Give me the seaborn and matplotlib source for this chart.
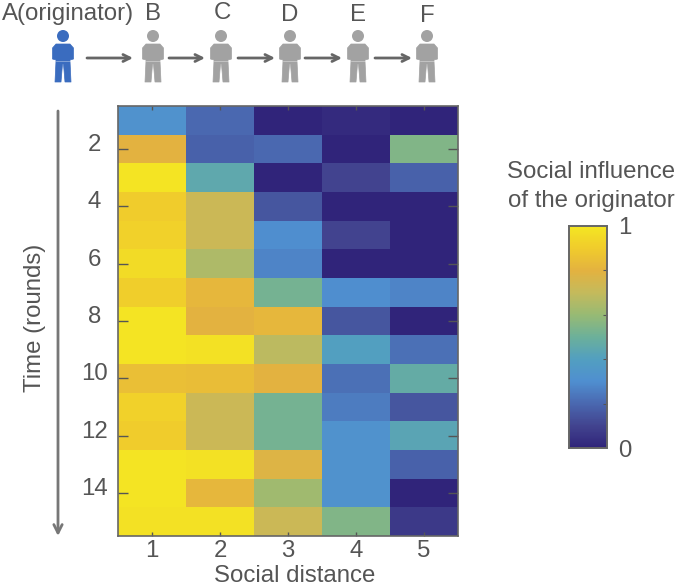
import numpy as np
import pandas as pd
import matplotlib
matplotlib.use('Agg')
import matplotlib.pyplot as plt
from matplotlib.colors import LinearSegmentedColormap
from matplotlib.patches import Circle, Polygon
from matplotlib.transforms import ScaledTranslation
import seaborn as sns

# values, one list per social distance
rounds = list(range(1, 16))
dist_1 = [0.32, 0.80, 0.99, 0.90, 0.92, 0.96, 0.91, 0.99, 0.99, 0.85, 0.92, 0.90, 0.99, 0.99, 0.98]
dist_2 = [0.20, 0.18, 0.45, 0.72, 0.72, 0.65, 0.82, 0.80, 0.98, 0.84, 0.72, 0.72, 0.98, 0.82, 0.98]
dist_3 = [0.00, 0.20, 0.00, 0.15, 0.30, 0.27, 0.52, 0.82, 0.68, 0.80, 0.52, 0.52, 0.78, 0.62, 0.72]
dist_4 = [0.02, 0.00, 0.10, 0.00, 0.10, 0.00, 0.30, 0.15, 0.40, 0.22, 0.25, 0.32, 0.32, 0.32, 0.55]
dist_5 = [0.00, 0.55, 0.18, 0.00, 0.00, 0.00, 0.27, 0.00, 0.22, 0.47, 0.15, 0.43, 0.18, 0.00, 0.07]

people = ['A(originator)', 'B', 'C', 'D', 'E', 'F']
people_x = [68, 153, 222, 290, 358, 427]
people_y = [14, 14, 13, 15, 15, 16]
icon_x = [63, 153, 221, 290, 358, 427]
arrows_x = [(87, 133), (169, 205), (238, 275), (305, 342), (375, 412)]

# parula-like colours as they look in the colour bar
cmap = LinearSegmentedColormap.from_list('parula_ish', [
    (0.0, '#30247a'), (0.1, '#42448f'), (0.2, '#4a68b0'), (0.3, '#4f8fd0'),
    (0.4, '#529fc0'), (0.5, '#6cb09a'), (0.6, '#97ba74'), (0.7, '#c4ba5c'),
    (0.8, '#e3b240'), (0.9, '#f0cb2c'), (1.0, '#f4e622')])

TEXT = '#555555'
FS = 17.3
W, H = 677, 587
plt.rcParams['font.family'] = ['Liberation Sans', 'DejaVu Sans']

df = pd.DataFrame({1: dist_1, 2: dist_2, 3: dist_3, 4: dist_4, 5: dist_5}, index=rounds)

fig = plt.figure(figsize=(W / 100, H / 100), dpi=100)


def box(x0, y0, x1, y1):
    return [x0 / W, 1 - y1 / H, (x1 - x0) / W, (y1 - y0) / H]


ax = fig.add_axes(box(118, 106, 458, 536))
cax = fig.add_axes(box(569, 226, 607, 448))
sns.heatmap(df, ax=ax, cmap=cmap, vmin=0, vmax=1, cbar_ax=cax, linewidths=0)

# heatmap ticks: inward on all sides like the original
ax.set_xticks(np.arange(5) + 0.5, labels=[1, 2, 3, 4, 5], rotation=0)
ax.set_yticks(np.arange(1, 15, 2) + 0.5, labels=[2, 4, 6, 8, 10, 12, 14], rotation=0)
ax.tick_params(axis='x', direction='in', top=True, bottom=True, length=3, width=1,
               color='#555555', labelsize=FS, labelcolor=TEXT, pad=3)
ax.tick_params(axis='y', direction='in', left=True, right=True, length=7, width=1,
               color='#555555', labelsize=FS, labelcolor=TEXT, pad=17)
shift = ScaledTranslation(0, 4 / 100, fig.dpi_scale_trans)
for lab in ax.get_yticklabels():
    lab.set_ha('center')
    lab.set_transform(lab.get_transform() + shift)
for s in ax.spines.values():
    s.set_visible(True)
    s.set_color('#666666')
    s.set_linewidth(1.2)
ax.set_xlabel('')
ax.set_ylabel('')

# colour bar
cax.set_yticks([0.2, 0.4, 0.6, 0.8])
cax.set_yticklabels([])
cax.tick_params(axis='y', direction='in', length=3, width=0.8, color='#555555', right=True)
for s in cax.spines.values():
    s.set_visible(True)
    s.set_color('#666666')
    s.set_linewidth(1.2)

# overlay in pixel coordinates for the icons, arrows and free text
ov = fig.add_axes([0, 0, 1, 1], zorder=5)
ov.set_xlim(0, W)
ov.set_ylim(H, 0)
ov.axis('off')


def person(cx, color):
    ov.add_patch(Circle((cx, 36), 6, color=color, lw=0))
    body = [(-7, 44), (7, 44), (10.5, 48), (10.5, 59), (7, 60), (7, 61), (8, 82), (2, 82),
            (0.5, 64), (-0.5, 64), (-2, 82), (-8, 82), (-7, 61), (-7, 60), (-10.5, 59), (-10.5, 48)]
    ov.add_patch(Polygon([(cx + a, b) for a, b in body], closed=True, facecolor=color,
                         edgecolor=color, lw=0.5, joinstyle='round'))
    ov.plot([cx - 7, cx + 7], [61, 61], color='white', lw=0.5, alpha=0.5)


for i, cx in enumerate(icon_x):
    person(cx, '#3a6cbf' if i == 0 else '#a2a2a2')
for name, tx, ty in zip(people, people_x, people_y):
    ov.text(tx, ty, name, ha='center', va='center', fontsize=FS, color=TEXT)
for x0, x1 in arrows_x:
    ov.annotate('', xy=(x1, 58), xytext=(x0, 58),
                arrowprops=dict(arrowstyle='->,head_length=0.5,head_width=0.25', color='#666666',
                                lw=2, shrinkA=0, shrinkB=0))

ov.annotate('', xy=(58, 536), xytext=(58, 111),
            arrowprops=dict(arrowstyle='->,head_length=0.6,head_width=0.3', color='#777777',
                            lw=2, shrinkA=0, shrinkB=0))
ov.text(35, 318, 'Time (rounds)', rotation=90, ha='center', va='center', fontsize=FS, color=TEXT)
ov.text(295, 576, 'Social distance', ha='center', va='center', fontsize=FS, color=TEXT)
ov.text(591, 172, 'Social influence', ha='center', va='center', fontsize=FS, color=TEXT)
ov.text(591, 201, 'of the originator', ha='center', va='center', fontsize=FS, color=TEXT)
ov.text(625, 228, '1', ha='center', va='center', fontsize=FS, color=TEXT)
ov.text(625, 451, '0', ha='center', va='center', fontsize=FS, color=TEXT)

fig.savefig('out.png', dpi=100)
